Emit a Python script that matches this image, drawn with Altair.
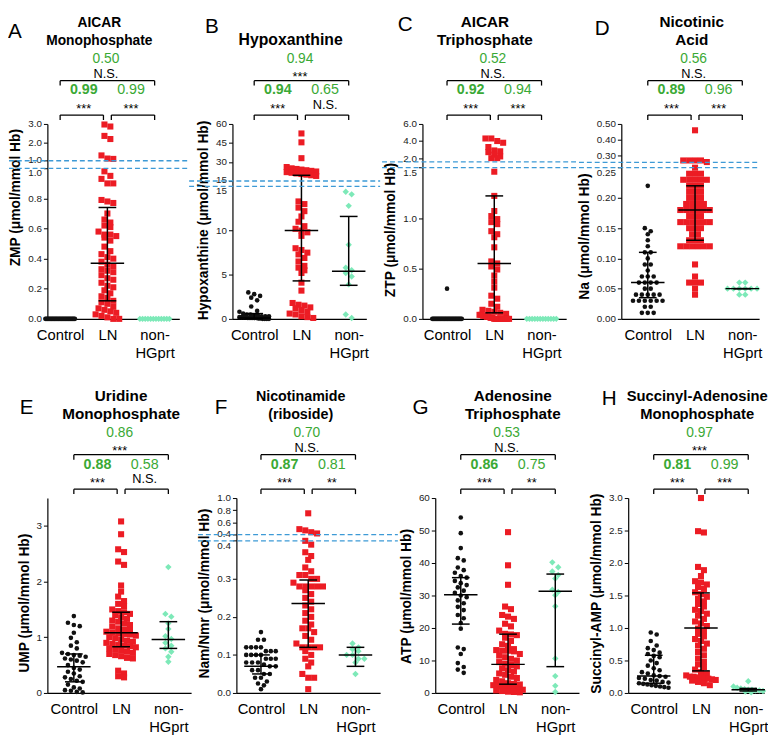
import altair as alt
import numpy as np
import pandas as pd

# ---------------- data ----------------
GROUPS = ["Control", "LN", "non-HGprt"]
KEYS = ["A", "B", "C", "D", "E", "F", "G", "H"]

TITLES = ["AICAR\nMonophosphate", "Hypoxanthine", "AICAR\nTriphosphate", "Nicotinic\nAcid",
          "Uridine\nMonophosphate", "Nicotinamide\n(riboside)", "Adenosine\nTriphosphate",
          "Succinyl-Adenosine\nMonophosphate"]
YTITLES = ["ZMP (μmol/mmol Hb)", "Hypoxanthine (μmol/mmol Hb)", "ZTP (μmol/mmol Hb)",
           "Na (μmol/mmol Hb)", "UMP (μmol/mmol Hb)", "Nam/Nmr (μmol/mmol Hb)",
           "ATP (μmol/mmol Hb)", "Succinyl-AMP (μmol/mmol Hb)"]
TOP_R = ["0.50", "0.94", "0.52", "0.56", "0.86", "0.70", "0.53", "0.97"]
TOP_SIG = ["N.S.", "***", "N.S.", "N.S.", "***", "N.S.", "N.S.", "***"]
LEFT_R = ["0.99", "0.94", "0.92", "0.89", "0.88", "0.87", "0.86", "0.81"]
RIGHT_R = ["0.99", "0.65", "0.94", "0.96", "0.58", "0.81", "0.75", "0.99"]
LEFT_SIG = ["***", "***", "***", "***", "***", "***", "***", "***"]
RIGHT_SIG = ["***", "N.S.", "***", "***", "N.S.", "**", "**", "***"]

A_CONTROL = [0.0, 0.0, 0.0, 0.0, 0.0, 0.0, 0.0, 0.0, 0.0, 0.0, 0.0, 0.0, 0.0, 0.0, 0.0,
             0.0, 0.0, 0.0, 0.0, 0.0, 0.0, 0.0, 0.0, 0.0, 0.0, 0.0, 0.0, 0.0, 0.0, 0.0]
A_LN = [2.97, 2.86, 2.35, 2.18, 1.29, 1.12, 1.1, 0.98, 0.95, 0.93, 0.90, 0.90, 0.79, 0.78,
        0.77, 0.70, 0.66, 0.64, 0.62, 0.61, 0.58, 0.56, 0.56, 0.55, 0.54, 0.52, 0.48, 0.45,
        0.43, 0.41, 0.40, 0.38, 0.36, 0.35, 0.33, 0.32, 0.31, 0.29, 0.27, 0.26, 0.24, 0.22,
        0.21, 0.19, 0.17, 0.15, 0.14, 0.12, 0.11, 0.10, 0.08, 0.07, 0.06, 0.05, 0.04, 0.03,
        0.02, 0.01, 0.0, 0.0]
A_NON = [0.0, 0.0, 0.0, 0.0, 0.0, 0.0, 0.0, 0.0, 0.0, 0.0, 0.0, 0.0]

B_CONTROL = [3.0, 2.8, 2.6, 2.4, 2.1, 1.4, 0.9, 0.8, 0.6, 0.5, 0.5, 0.4, 0.4, 0.3, 0.3, 0.3,
             0.2, 0.2, 0.2, 0.2, 0.1, 0.1, 0.1, 0.1, 0.1, 0.05, 0.05, 0.0, 0.0, 0.0, 0.0]
B_LN = [52.5, 45.5, 33.0, 26.0, 25.0, 24.5, 24.0, 23.5, 23.0, 22.5, 22.0, 21.5, 21.0, 20.5,
        20.0, 19.5, 19.0, 13.3, 13.0, 12.6, 12.2, 11.6, 11.0, 10.5, 10.2, 10.0, 9.8, 9.4, 8.0,
        7.8, 7.5, 7.3, 6.9, 6.5, 6.0, 5.8, 5.5, 5.2, 4.1, 3.2, 1.8, 1.6, 1.5, 1.3, 1.2, 1.0,
        0.8, 0.6, 0.5, 0.3, 0.2, 0.1]
B_NON = [14.4, 14.1, 12.8, 8.4, 5.8, 5.5, 5.2, 4.8, 3.9, 0.5, 0.1]

C_CONTROL = [0.3, 0.0, 0.0, 0.0, 0.0, 0.0, 0.0, 0.0, 0.0, 0.0, 0.0, 0.0, 0.0, 0.0, 0.0, 0.0,
             0.0, 0.0, 0.0, 0.0, 0.0, 0.0, 0.0, 0.0, 0.0, 0.0, 0.0, 0.0, 0.0, 0.0, 0.0]
C_LN = [4.3, 4.3, 4.0, 3.8, 3.3, 2.9, 2.8, 2.7, 2.4, 2.2, 2.0, 2.0, 1.46, 1.22, 1.07, 1.02,
        0.99, 0.96, 0.94, 0.87, 0.84, 0.81, 0.71, 0.57, 0.55, 0.52, 0.49, 0.43, 0.37, 0.31,
        0.23, 0.20, 0.15, 0.12, 0.09, 0.08, 0.07, 0.06, 0.05, 0.04, 0.04, 0.03, 0.03, 0.02,
        0.02, 0.01, 0.01, 0.0, 0.0, 0.0, 0.0, 0.0, 0.0, 0.0, 0.0, 0.0]
C_NON = [0.0, 0.0, 0.0, 0.0, 0.0, 0.0, 0.0, 0.0, 0.0, 0.0, 0.0, 0.0]

D_CONTROL = [0.22, 0.15, 0.145, 0.14, 0.13, 0.12, 0.11, 0.11, 0.10, 0.09, 0.09, 0.08, 0.07,
             0.07, 0.07, 0.06, 0.06, 0.06, 0.06, 0.05, 0.05, 0.04, 0.04, 0.04, 0.04, 0.04,
             0.03, 0.03, 0.03, 0.03, 0.03, 0.03, 0.02, 0.02, 0.01, 0.01, 0.01]
D_LN = [0.46, 0.27, 0.27, 0.27, 0.27, 0.26, 0.25, 0.24, 0.24, 0.24, 0.23, 0.23, 0.23, 0.23,
        0.23, 0.22, 0.22, 0.22, 0.21, 0.21, 0.21, 0.20, 0.20, 0.20, 0.19, 0.19, 0.19, 0.19,
        0.18, 0.18, 0.18, 0.18, 0.18, 0.18, 0.17, 0.17, 0.17, 0.16, 0.16, 0.16, 0.16, 0.16,
        0.16, 0.15, 0.15, 0.15, 0.14, 0.14, 0.13, 0.13, 0.13, 0.12, 0.12, 0.12, 0.12, 0.12,
        0.12, 0.09, 0.07, 0.06, 0.06, 0.06, 0.05, 0.04]
D_NON = [0.06, 0.06, 0.05, 0.05, 0.05, 0.05, 0.05, 0.05, 0.04, 0.04]

E_CONTROL = [1.38, 1.26, 1.22, 1.2, 1.08, 0.99, 0.91, 0.85, 0.8, 0.72, 0.7, 0.68, 0.67, 0.65,
             0.62, 0.6, 0.58, 0.55, 0.5, 0.45, 0.42, 0.38, 0.35, 0.3, 0.28, 0.25, 0.22, 0.2,
             0.15, 0.1, 0.08, 0.05, 0.04, 0.02, 0.01]
E_LN = [3.08, 2.85, 2.58, 2.53, 2.36, 2.3, 1.93, 1.82, 1.73, 1.65, 1.6, 1.56, 1.5, 1.47, 1.45,
        1.42, 1.4, 1.36, 1.33, 1.3, 1.28, 1.25, 1.22, 1.19, 1.16, 1.14, 1.12, 1.1, 1.08, 1.07,
        1.06, 1.05, 1.03, 1.0, 0.98, 0.96, 0.94, 0.92, 0.9, 0.88, 0.86, 0.85, 0.84, 0.82, 0.8,
        0.79, 0.76, 0.74, 0.72, 0.7, 0.68, 0.66, 0.63, 0.62, 0.4, 0.35, 0.3, 0.28]
E_NON = [2.26, 1.42, 1.37, 1.25, 1.15, 1.02, 0.97, 0.9, 0.85, 0.8, 0.74, 0.65, 0.56]

F_CONTROL = [0.16, 0.14, 0.14, 0.12, 0.12, 0.12, 0.12, 0.11, 0.11, 0.11, 0.10, 0.10, 0.10,
             0.10, 0.09, 0.09, 0.09, 0.08, 0.08, 0.08, 0.075, 0.07, 0.07, 0.06, 0.06, 0.05,
             0.05, 0.04, 0.04, 0.03, 0.025, 0.02, 0.01]
F_LN = [0.75, 0.49, 0.47, 0.44, 0.42, 0.40, 0.39, 0.37, 0.36, 0.35, 0.33, 0.32, 0.31, 0.31,
        0.30, 0.30, 0.29, 0.28, 0.28, 0.28, 0.28, 0.28, 0.27, 0.26, 0.25, 0.24, 0.23, 0.22,
        0.21, 0.2, 0.19, 0.18, 0.17, 0.17, 0.16, 0.15, 0.14, 0.13, 0.12, 0.12, 0.12, 0.12,
        0.11, 0.10, 0.09, 0.08, 0.07, 0.05, 0.04, 0.04, 0.01]
F_NON = [0.13, 0.12, 0.115, 0.11, 0.10, 0.10, 0.09, 0.09, 0.08, 0.05]

G_CONTROL = [54.0, 49.2, 44.6, 41.5, 40.8, 38.6, 37.8, 37.0, 36.0, 35.5, 34.5, 33.8, 33.2,
             32.5, 31.5, 30.8, 30.0, 29.5, 28.5, 27.6, 26.5, 25.5, 24.0, 23.0, 21.5, 19.8,
             14.0, 13.5, 12.0, 9.2, 8.0, 7.2, 6.2]
G_LN = [49.5, 39.3, 33.3, 26.6, 25.8, 24.0, 23.5, 22.8, 21.3, 20.5, 19.2, 18.2, 18.0, 17.8,
        17.0, 16.0, 15.0, 14.5, 13.5, 13.2, 13.0, 13.0, 12.8, 12.0, 11.5, 11.0, 10.5, 10.0,
        9.5, 9.0, 8.6, 8.2, 7.6, 7.0, 6.6, 6.0, 5.6, 5.0, 4.6, 4.0, 3.6, 3.0, 2.8, 2.6, 2.4,
        2.2, 2.0, 1.8, 1.6, 1.4, 1.2, 1.0, 0.8, 0.6, 0.4, 0.3, 0.2]
G_NON = [40.2, 38.7, 37.4, 36.3, 35.2, 31.8, 31.1, 30.1, 26.7, 10.6, 5.2, 2.2, 0.3]

H_CONTROL = [0.93, 0.9, 0.8, 0.73, 0.69, 0.66, 0.62, 0.6, 0.57, 0.55, 0.5, 0.46, 0.42, 0.38,
             0.35, 0.32, 0.3, 0.27, 0.26, 0.25, 0.23, 0.22, 0.2, 0.19, 0.17, 0.16, 0.15, 0.14,
             0.13, 0.12, 0.11, 0.1, 0.09, 0.08]
H_LN = [3.0, 2.49, 2.47, 1.94, 1.89, 1.8, 1.72, 1.7, 1.67, 1.63, 1.6, 1.55, 1.52, 1.48, 1.45,
        1.41, 1.37, 1.33, 1.28, 1.26, 1.22, 1.19, 1.14, 1.1, 1.07, 1.03, 0.99, 0.95, 0.91,
        0.87, 0.83, 0.8, 0.76, 0.73, 0.68, 0.63, 0.58, 0.53, 0.48, 0.44, 0.4, 0.36, 0.32,
        0.29, 0.27, 0.25, 0.25, 0.24, 0.23, 0.22, 0.22, 0.21, 0.2, 0.19, 0.17, 0.15, 0.12]
H_NON = [0.18, 0.1, 0.08, 0.07, 0.06, 0.05, 0.05, 0.04, 0.04, 0.03, 0.02, 0.01]

VALUES = {
    "A": [A_CONTROL, A_LN, A_NON], "B": [B_CONTROL, B_LN, B_NON],
    "C": [C_CONTROL, C_LN, C_NON], "D": [D_CONTROL, D_LN, D_NON],
    "E": [E_CONTROL, E_LN, E_NON], "F": [F_CONTROL, F_LN, F_NON],
    "G": [G_CONTROL, G_LN, G_NON], "H": [H_CONTROL, H_LN, H_NON],
}

# median, lower quartile, upper quartile (None = not drawn)
STATS = {
    "A": [None, (0.37, 0.12, 0.74), None],
    "B": [(0.1, 0.0, 0.6), (10.0, 4.3, 19.5), (5.4, 3.8, 11.6)],
    "C": [None, (0.55, 0.06, 1.22), None],
    "D": [(0.06, 0.035, 0.11), (0.18, 0.13, 0.22), (0.05, 0.05, 0.05)],
    "E": [(0.47, 0.2, 0.7), (1.08, 0.83, 1.45), (0.96, 0.8, 1.28)],
    "F": [(0.07, 0.05, 0.10), (0.235, 0.12, 0.297), (0.10, 0.07, 0.12)],
    "G": [(30.2, 21.2, 35.5), (8.8, 2.7, 18.1), (31.3, 8.1, 36.6)],
    "H": [(0.26, 0.15, 0.58), (1.0, 0.34, 1.54), (0.05, 0.03, 0.07)],
}

# y axes (broken axes use a piecewise scale)
Y_DOMAIN = {"A": [0, 1.0, 1.0001, 3.0], "B": [0, 15, 15.001, 60], "C": [0, 1.5, 1.55, 6.0],
            "D": [0, 0.25, 0.258, 0.5], "E": [0, 3.5], "F": [0, 0.4, 0.4001, 1.0],
            "G": [0, 60], "H": [0, 3.0]}
Y_TICKS = {"A": [0, 0.2, 0.4, 0.6, 0.8, 1.0, 1.0001, 2.0, 3.0],
           "B": [0, 5, 10, 15, 15.001, 30, 45, 60],
           "C": [0, 0.5, 1.0, 1.5, 2.0, 4.0, 6.0],
           "D": [0, 0.05, 0.1, 0.15, 0.2, 0.25, 0.3, 0.4, 0.5],
           "E": [0, 1, 2, 3],
           "F": [0, 0.1, 0.2, 0.3, 0.4, 0.4001, 0.6, 0.8, 1.0],
           "G": [0, 10, 20, 30, 40, 50, 60],
           "H": [0, 0.5, 1.0, 1.5, 2.0, 2.5, 3.0]}
Y_FMT = {"A": ".1f", "B": "d", "C": ".1f", "D": ".2f", "E": "d", "F": ".1f", "G": "d", "H": ".1f"}

# ---------------- layout / style ----------------
FONT = "Liberation Sans"
GREEN = "#3aa935"
COLORS = ["#111111", "#ec1c24", "#7de9b8"]
SHAPES = ["circle", "square", "diamond"]
SIZES = [22, 38, 42]
BLUE = "#3d9ad6"
PH = 198          # plot height
POFS = 112        # room above plot for annotations
VH = POFS + PH
U = 48.0          # px per category unit
K = PH / 205.0
# breakpoints in reference pixels from plot top (plot height 205)
Y_RANGE_REF = {"A": [205, 46.7, 38.7, 0], "B": [205, 65.7, 60, 0], "C": [205, 46, 40, 0],
               "D": [205, 46, 40.4, 0], "E": [205, 0], "F": [205, 45, 38.5, 0],
               "G": [205, 0], "H": [205, 0]}
LAYOUT = {"A": (40, 134, 8, -0.27), "B": (45, 136, 14, -0.46), "C": (42, 146, 10, -0.52),
          "D": (44, 140, 0, -0.56), "E": (30, 146, 6, -0.56), "F": (40, 146, 18, -0.52),
          "G": (36, 146, 10, -0.54), "H": (40, 138, 4, -0.54)}
LETTER_DX = [-40, -28, -25, -27, -28, -22, -23, -27]
LETTER_DY = [-97, -102, -104, -100, -95, -95, -95, -104]
YTITLE_C = [77, 101, 111, 118, 110, 100, 103, 100]
TITLE_X = [0.83, 0.77, 0.8, 0.93, 1.0, 0.84, 1.1, 0.92]
TITLE_SIZE = [14, 16, 15.5, 15.5, 15.5, 14.5, 15.5, 15]


def swarm(vals, ypx, center):
    ypx = np.asarray(ypx)
    order = np.argsort(ypx, kind="stable")
    rows, cur, start = [], [], None
    for i in order:
        if cur and ypx[i] - start > 5.0:
            rows.append(cur)
            cur = []
        if not cur:
            start = ypx[i]
        cur.append(i)
    if cur:
        rows.append(cur)
    xs = np.zeros(len(vals))
    for r in rows:
        n = len(r)
        sp = 6.0 if n < 2 else min(6.0, 30.0 / (n - 1))
        for k, i in enumerate(r):
            xs[i] = center + (k - (n - 1) / 2.0) * sp / U
    return xs


def build_panel(i, key):
    L, W, R, lo = LAYOUT[key]
    hi = lo + W / U
    dom = Y_DOMAIN[key]
    rng = [POFS + r * K for r in Y_RANGE_REF[key]]
    xs = alt.Scale(domain=[lo, hi], nice=False, zero=False)
    ys = alt.Scale(domain=dom, range=rng, nice=False, zero=False)
    xaxis = alt.Axis(values=[0, 1, 2],
                     labelExpr="datum.value == 0 ? 'Control' : datum.value == 1 ? 'LN' : ['non-', 'HGprt']",
                     ticks=False, grid=False, domainColor="black", domainWidth=1.2,
                     labelFontSize=15, labelColor="black", labelFont=FONT, labelPadding=9,
                     labelFlush=False, labelOverlap=False, labelLineHeight=18, title=None)
    yprops = dict(values=Y_TICKS[key], format=Y_FMT[key], labelOverlap=False, grid=False,
                  tickSize=4, tickColor="black", tickWidth=1, domainColor="black",
                  domainWidth=1.2, labelFontSize=10, labelColor="#222", labelFont=FONT,
                  labelPadding=2, titleFont=FONT, titleFontSize=14, titleFontWeight="bold",
                  titleColor="black", titleY=POFS + YTITLE_C[i] * K, titlePadding=5)
    if len(dom) == 4:
        # nudge the two labels that sit at the axis break apart
        yprops["labelOffset"] = {"condition": [
            {"test": "datum.value == %r" % dom[2], "value": -1.5},
            {"test": "datum.value == %r" % dom[1], "value": 4.5}], "value": 0}
    yaxis = alt.Axis(**yprops)

    def X(f):
        return alt.X(f, type="quantitative", scale=xs, axis=xaxis, title=None)

    def Y(f):
        return alt.Y(f, type="quantitative", scale=ys, axis=yaxis, title=YTITLES[i])

    dummy = pd.DataFrame({"d": [0]})
    layers = []
    # invisible extent (fixes the panel's footprint)
    layers.append(alt.Chart(dummy).mark_rule(color="white", opacity=0).encode(
        x=alt.value(-L), x2=alt.value(W + R), y=alt.value(POFS + PH / 2)))

    # points
    for g in range(3):
        vals = VALUES[key][g]
        ypx = np.interp(vals, dom, rng)
        xv = swarm(vals, ypx, g)
        df = pd.DataFrame({"x": xv, "v": vals})
        layers.append(alt.Chart(df).mark_point(
            shape=SHAPES[g], filled=True, size=SIZES[g], color=COLORS[g], opacity=1,
            strokeWidth=0).encode(x=X("x"), y=Y("v")))

    # median / quartile bars
    rows = []
    for g in range(3):
        s = STATS[key][g]
        if s is None:
            continue
        rows.append({"c": g, "med": s[0], "q1": s[1], "q3": s[2],
                     "m1": g - 17 / U, "m2": g + 17 / U, "c1": g - 9 / U, "c2": g + 9 / U})
    if rows:
        st = pd.DataFrame(rows)
        base = alt.Chart(st).mark_rule(color="black", strokeWidth=1.5)
        layers.append(base.encode(x=X("m1"), x2=alt.X2("m2"), y=Y("med")))
        layers.append(base.encode(x=X("c1"), x2=alt.X2("c2"), y=Y("q1")))
        layers.append(base.encode(x=X("c1"), x2=alt.X2("c2"), y=Y("q3")))
        layers.append(base.encode(x=X("c"), y=Y("q1"), y2=alt.Y2("q3")))

    # dashed break lines
    if len(dom) == 4:
        bk = pd.DataFrame({"b": [dom[1], dom[2]]})
        layers.append(alt.Chart(bk).mark_rule(color=BLUE, strokeWidth=1.3,
                                              strokeDash=[5, 3]).encode(
            x=alt.value(-L + 1), x2=alt.value(W + R), y=Y("b")))

    # brackets
    gap = 4 / U
    top_y, sm_y = POFS - 44, POFS - 9
    br = alt.Chart(pd.DataFrame({"x": [0], "x2": [2]})).mark_rule(color="black", strokeWidth=1.3)
    layers.append(br.encode(x=X("x"), x2=alt.X2("x2"), y=alt.value(top_y)))
    layers.append(alt.Chart(pd.DataFrame({"x": [0, 2]})).mark_rule(
        color="black", strokeWidth=1.3).encode(x=X("x"), y=alt.value(top_y), y2=alt.value(top_y + 5)))
    layers.append(alt.Chart(pd.DataFrame({"x": [0, 1 + gap], "x2": [1 - gap, 2]})).mark_rule(
        color="black", strokeWidth=1.3).encode(x=X("x"), x2=alt.X2("x2"), y=alt.value(sm_y)))
    layers.append(alt.Chart(pd.DataFrame({"x": [0, 1 - gap, 1 + gap, 2]})).mark_rule(
        color="black", strokeWidth=1.3).encode(x=X("x"), y=alt.value(sm_y), y2=alt.value(sm_y + 5)))

    # texts
    def txt(xv, t, y, size, color, weight="normal"):
        if "*" in t:
            y = y + 3.5
        df = pd.DataFrame({"x": [xv], "t": [t]})
        return alt.Chart(df).mark_text(font=FONT, fontSize=size, color=color, fontWeight=weight,
                                       align="center", baseline="middle").encode(
            x=X("x"), y=alt.value(y), text=alt.Text("t:N"))

    two_lines = "\n" in TITLES[i]
    ty = POFS - 98.5 if two_lines else POFS - 80
    tdf = pd.DataFrame({"x": [TITLE_X[i]], "t": [TITLES[i]]})
    layers.append(alt.Chart(tdf).mark_text(font=FONT, fontSize=TITLE_SIZE[i], fontWeight="bold",
                                           color="black", align="center", baseline="alphabetic",
                                           lineBreak="\n", lineHeight=18.5).encode(
        x=X("x"), y=alt.value(ty), text=alt.Text("t:N")))
    layers.append(txt(0.97, TOP_R[i], POFS - 66, 14, GREEN))
    layers.append(txt(0.97, TOP_SIG[i], POFS - 51, 13, "black"))
    layers.append(txt(0.5, LEFT_R[i], POFS - 34, 14.5, GREEN, "bold"))
    layers.append(txt(1.5, RIGHT_R[i], POFS - 34, 14.5, GREEN))
    layers.append(txt(0.5, LEFT_SIG[i], POFS - 19, 13, "black"))
    layers.append(txt(1.5, RIGHT_SIG[i], POFS - 19, 13, "black"))
    layers.append(alt.Chart(dummy).mark_text(font=FONT, fontSize=21, color="black",
                                             align="left", baseline="middle").encode(
        x=alt.value(LETTER_DX[i]), y=alt.value(POFS + LETTER_DY[i] * K), text=alt.value(key)))

    return alt.layer(*layers).properties(width=W, height=VH)


panels = [build_panel(i, k) for i, k in enumerate(KEYS)]
row1 = alt.hconcat(*panels[:4], spacing=0)
row2 = alt.hconcat(*panels[4:], spacing=0)
chart = alt.vconcat(row1, row2, spacing=28).properties(padding=0).configure_view(stroke=None)

chart.save("out.html", embed_options={"renderer": "svg", "actions": False})
